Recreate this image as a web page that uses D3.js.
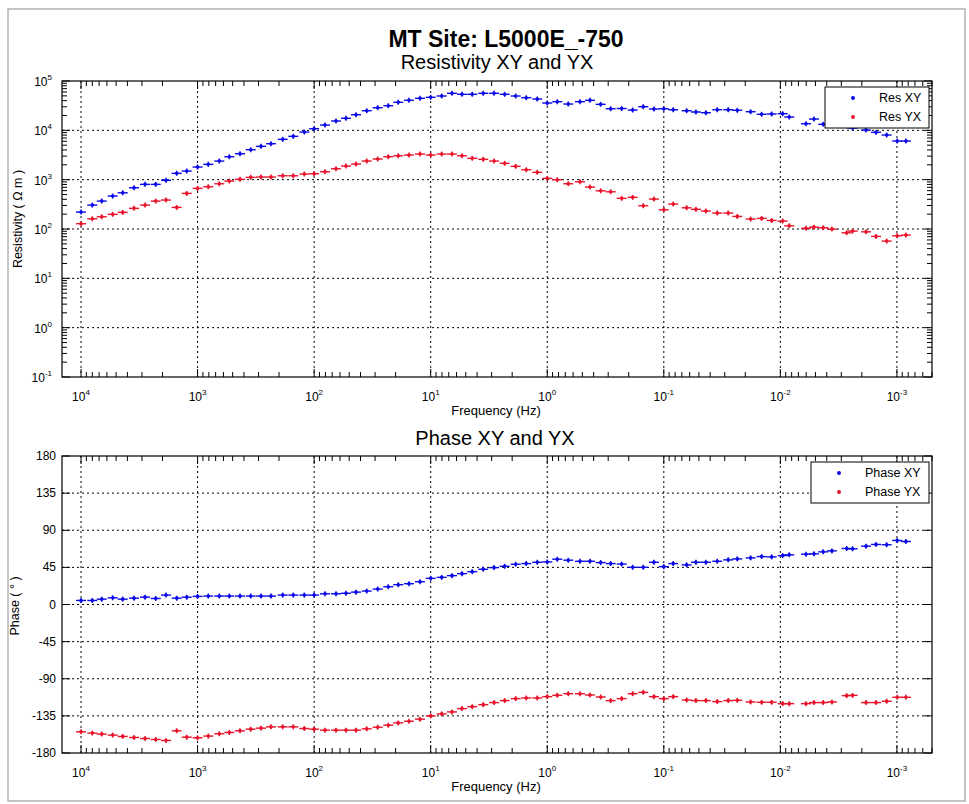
<!DOCTYPE html>
<html><head><meta charset="utf-8">
<script src="https://cdn.jsdelivr.net/npm/d3@7"></script>
<style>
body{margin:0;background:#fff;}
text{font-family:"Liberation Sans",Arial,Helvetica,sans-serif;}
</style></head>
<body><svg id="c" width="969" height="804"></svg>
<script>
// ---------- data ----------
const freq = [10000,8000,6640,5350,4390,3510,2825,2287,1866,1510,1239,1000,809,651,534,432.5,350,285.6,234.5,186.1,150.9,121.4,100,80.7,64.9,53.3,43.7,35.4,28.5,23.1,18.97,15.36,12.36,10,8.05,6.57,5.39,4.40,3.54,2.86,2.32,1.866,1.514,1.218,1.0,0.820,0.660,0.524,0.430,0.348,0.2857,0.2299,0.1850,0.150,0.1215,0.1,0.0830,0.0637,0.0530,0.0435,0.0348,0.0280,0.0234,0.0180,0.01448,0.01188,0.00956,0.00839,0.00603,0.00515,0.00429,0.00361,0.00270,0.00240,0.00184,0.00151,0.001225,0.000994,0.000837];
const resXY = [220,305,368,465,542,685,803,803,968,1343,1494,1802,2043,2384,2916,3352,4044,4735,5350,6567,7556,9238,10770,12810,15450,17510,20720,24980,28730,31540,36970,40610,44610,46700,49650,56340,53760,53760,56340,56340,53760,49650,45830,43130,35810,38030,34130,38030,40610,33640,27410,27670,25810,30130,27040,27410,26160,24980,23510,22750,26160,26160,25440,23850,21130,21440,21740,18620,13610,16940,13250,12810,12230,11140,10140,9107,8035,6067,6067];
const resYX = [128,161,177,198,217,262,305,368,386,274,527,666,718,826,937,1014,1114,1130,1130,1200,1200,1300,1318,1447,1665,1889,2072,2384,2618,2916,3054,3157,3306,3157,3306,3306,3054,2704,2582,2384,2143,1862,1589,1407,1062,995,826,906,708,595,568,418,438,296,404,245,320,269,250,231,210,210,180,159,164,149,145,116,103,109,106,99.5,83.8,90.6,87.7,70.8,56.9,72.8,75.2];
const phaseXY = [4.9,4.9,6.5,8.1,6.5,7.7,8.9,7.3,11.4,7.7,8.9,9.8,10.2,10.2,10.2,10.2,10.2,10.2,10.2,11.4,11.4,11.4,11.4,13,13,13.6,15,16.3,18.7,21.5,24,25.2,27.6,31.7,32.9,35,37.4,39.8,42.7,44.7,46.3,48.8,49.6,51.2,51.6,54.9,53.7,52.4,52.4,50.8,49.6,49,45.1,45.1,51.2,45.9,49.6,48,51.2,51.2,52.4,54.1,55.3,56.5,58.1,57.7,59.3,60.2,61,61.4,63.8,65,67.9,67.5,70.7,72.8,72.4,77.6,76.4];
const phaseYX = [-154.3,-155.9,-157.1,-158.3,-159.9,-161.2,-162.4,-163.6,-164.8,-153.1,-160.8,-161.6,-159.5,-156.7,-155.1,-153.1,-151.1,-149.9,-148.3,-148.3,-148.3,-150.3,-151.1,-152.3,-152.3,-152.3,-152.3,-150.7,-148.7,-146.3,-143.5,-141.5,-139,-135,-132.6,-130.2,-126.2,-123.8,-121.4,-118.9,-116.5,-114.1,-113.3,-113.3,-111.7,-110.1,-108.1,-108.1,-109.7,-112.1,-116.5,-114.1,-108.1,-106.5,-111.7,-114.1,-111.7,-115.7,-116.5,-116.5,-117.7,-116.5,-116.2,-118.1,-118.5,-118.5,-120.2,-120.2,-120.2,-118.9,-118.9,-118.1,-110.5,-110.1,-118.9,-118.9,-117.3,-112.5,-112.5];
const freqTicks = [1e4,1e3,1e2,1e1,1e0,1e-1,1e-2,1e-3];
const resTicks = [1e-1,1e0,1e1,1e2,1e3,1e4,1e5];
const phaseTicks = [-180,-135,-90,-45,0,45,90,135,180];

const BLUE = "#0a0ae6", RED = "#e8142c";
const svg = d3.select("#c");

// figure frame
svg.append("rect").attr("x",8).attr("y",9).attr("width",957).attr("height",792)
  .attr("fill","none").attr("stroke","#a0a0a0").attr("stroke-width",1.2);

// titles
svg.append("text").attr("x",506).attr("y",47).attr("text-anchor","middle")
  .attr("font-size",23).attr("font-weight","bold").text("MT Site: L5000E_-750");
svg.append("text").attr("x",497).attr("y",69).attr("text-anchor","middle")
  .attr("font-size",20).text("Resistivity XY and YX");
svg.append("text").attr("x",495).attr("y",445).attr("text-anchor","middle")
  .attr("font-size",20).text("Phase XY and YX");

const L = 62, R = 932;
const x = d3.scaleLog().domain([14560, 5.0e-4]).range([L, R]);
const yRes = d3.scaleLog().domain([0.1, 1e5]).range([377, 81]);
const yPh = d3.scaleLinear().domain([-180, 180]).range([753, 456]);

function supLabel(sel, exp){
  sel.append("tspan").text("10");
  sel.append("tspan").attr("dy",-6).attr("font-size",8).text(exp);
}

function minorVals(domain){
  const lo = Math.min(...domain), hi = Math.max(...domain);
  const out = [];
  for(let k=-5;k<=6;k++) for(let m=2;m<=9;m++){ const v=m*Math.pow(10,k); if(v>=lo&&v<=hi) out.push(v);}
  return out;
}

function panel(y, top, bot, yTicks, isLog){
  const g = svg.append("g");
  freqTicks.forEach(t=>{
    g.append("line").attr("x1",x(t)).attr("x2",x(t)).attr("y1",top).attr("y2",bot)
      .attr("stroke","#000").attr("stroke-width",1).attr("stroke-dasharray","2,3");
  });
  yTicks.forEach(t=>{
    const yy=y(t); if(Math.abs(yy-top)<1||Math.abs(yy-bot)<1) return;
    g.append("line").attr("x1",L).attr("x2",R).attr("y1",yy).attr("y2",yy)
      .attr("stroke","#000").attr("stroke-width",1).attr("stroke-dasharray","2,3");
  });
  freqTicks.forEach(t=>{
    [[bot,-8],[top,8]].forEach(([b,d])=>g.append("line").attr("x1",x(t)).attr("x2",x(t)).attr("y1",b).attr("y2",b+d).attr("stroke","#000"));
  });
  minorVals(x.domain()).forEach(t=>{
    [[bot,-5],[top,5]].forEach(([b,d])=>g.append("line").attr("x1",x(t)).attr("x2",x(t)).attr("y1",b).attr("y2",b+d).attr("stroke","#000"));
  });
  yTicks.forEach(t=>{
    const yy=y(t);
    g.append("line").attr("x1",L).attr("x2",L+8).attr("y1",yy).attr("y2",yy).attr("stroke","#000");
    g.append("line").attr("x1",R).attr("x2",R-8).attr("y1",yy).attr("y2",yy).attr("stroke","#000");
  });
  if(isLog){
    minorVals(y.domain()).forEach(t=>{
      const yy=y(t);
      g.append("line").attr("x1",L).attr("x2",L+5).attr("y1",yy).attr("y2",yy).attr("stroke","#000");
      g.append("line").attr("x1",R).attr("x2",R-5).attr("y1",yy).attr("y2",yy).attr("stroke","#000");
    });
  }
  g.append("rect").attr("x",L).attr("y",top).attr("width",R-L).attr("height",bot-top)
    .attr("fill","none").attr("stroke","#000").attr("stroke-width",1.2);
  freqTicks.forEach(t=>{
    const tx = g.append("text").attr("x",x(t)).attr("y",bot+24).attr("text-anchor","middle").attr("font-size",12);
    supLabel(tx, Math.round(Math.log10(t)));
  });
  g.append("text").attr("x",496).attr("y",bot+38).attr("text-anchor","middle").attr("font-size",13).text("Frequency (Hz)");
  return g;
}

// ---- resistivity panel ----
panel(yRes, 81, 377, resTicks, true);
resTicks.forEach(t=>{
  const tx = svg.append("text").attr("x",L-10).attr("y",yRes(t)+5).attr("text-anchor","end").attr("font-size",12);
  supLabel(tx, Math.round(Math.log10(t)));
});
svg.append("text").attr("transform","translate(22,219) rotate(-90)").attr("text-anchor","middle")
  .attr("font-size",12.5).text("Resistivity ( \u03A9 m )");

// ---- phase panel ----
panel(yPh, 456, 753, phaseTicks, false);
phaseTicks.forEach(t=>{
  svg.append("text").attr("x",L-6).attr("y",yPh(t)+4).attr("text-anchor","end").attr("font-size",12).text(t);
});
svg.append("text").attr("transform","translate(19,606) rotate(-90)").attr("text-anchor","middle")
  .attr("font-size",12.5).text("Phase ( \u00B0 )");

// ---- points ----
function drawSeries(vals, yScale, color){
  const g = svg.append("g").attr("stroke",color).attr("fill",color);
  const pts = freq.map((f,i)=>({x:x(f), y:yScale(vals[i])}));
  g.selectAll(".h").data(pts).join("line").attr("x1",d=>d.x-5).attr("x2",d=>d.x+5)
    .attr("y1",d=>d.y).attr("y2",d=>d.y).attr("stroke-width",1.4);
  g.selectAll(".v").data(pts).join("line").attr("x1",d=>d.x).attr("x2",d=>d.x)
    .attr("y1",d=>d.y-2.5).attr("y2",d=>d.y+2.5).attr("stroke-width",1.4);
  g.selectAll("circle").data(pts).join("circle").attr("cx",d=>d.x).attr("cy",d=>d.y).attr("r",1.8).attr("stroke","none");
}
drawSeries(resXY, yRes, BLUE);
drawSeries(resYX, yRes, RED);
drawSeries(phaseXY, yPh, BLUE);
drawSeries(phaseYX, yPh, RED);

// ---- legends ----
function legend(x0, y0, w, h, items){
  const g = svg.append("g");
  g.append("rect").attr("x",x0).attr("y",y0).attr("width",w).attr("height",h)
    .attr("fill","#fff").attr("stroke","#000").attr("stroke-width",1);
  items.forEach((it,i)=>{
    const yy = y0 + 11 + i*19;
    g.append("circle").attr("cx",x0+28).attr("cy",yy).attr("r",2).attr("fill",it.c);
    g.append("text").attr("x",x0+54).attr("y",yy+4).attr("font-size",12.5).text(it.t);
  });
}
legend(825, 87, 104, 41, [{t:"Res XY",c:BLUE},{t:"Res YX",c:RED}]);
legend(811, 462, 118, 41, [{t:"Phase XY",c:BLUE},{t:"Phase YX",c:RED}]);
</script></body></html>
